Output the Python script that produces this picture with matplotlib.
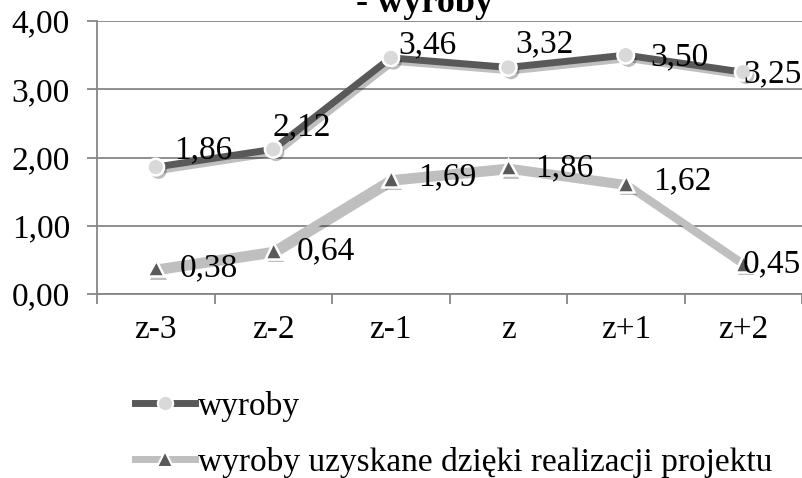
import matplotlib
matplotlib.use("Agg")
import matplotlib.pyplot as plt
import matplotlib.patheffects as pe
from matplotlib.lines import Line2D

plt.rcParams['font.family'] = ['Liberation Serif', 'DejaVu Serif']

categories = ["z-3", "z-2", "z-1", "z", "z+1", "z+2"]
wyroby = [1.86, 2.12, 3.46, 3.32, 3.50, 3.25]
wyroby_projekt = [0.38, 0.64, 1.69, 1.86, 1.62, 0.45]
y_ticks = [0, 1, 2, 3, 4]
y_tick_labels = ["0,00", "1,00", "2,00", "3,00", "4,00"]
series_names = ["wyroby", "wyroby uzyskane dzięki realizacji projektu"]
title_text = "- wyroby"

# label offsets in pixels (dx to left edge, dy to centre; + is down)
off1 = [(18, -17), (-1, -22), (8, -13), (7, -23), (25, 2), (0, 2)]
off2 = [(24, 0), (23, 1), (27, -2), (27, 1), (27, -2), (0, 1)]

W, H = 802, 478
fig = plt.figure(figsize=(W / 100, H / 100), dpi=100)
ax = fig.add_axes([97 / W, 1 - 294 / H, (802 - 97) / W, (294 - 21) / H])

FS = 24
grid_c = "#868686"
dark = "#595959"
light = "#bfbfbf"
markc = "#d9d9d9"

x = list(range(len(categories)))
ax.set_xlim(-0.5, len(categories) - 0.5)
ax.set_ylim(0, 4)

for yv in y_ticks:
    ax.axhline(yv, color=grid_c, lw=1.3, zorder=1)

shadow_line = [pe.SimpleLineShadow(offset=(2, -2.5), shadow_color='black', alpha=0.25), pe.Normal()]
shadow_patch = [pe.SimplePatchShadow(offset=(2, -2.5), shadow_rgbFace='black', alpha=0.25), pe.Normal()]

ax.plot(x, wyroby, color=dark, lw=5, solid_capstyle='round', zorder=3, path_effects=shadow_line)
ax.plot(x, wyroby, ls='none', marker='o', ms=12, mfc=markc, mec='white', mew=1.8, zorder=4,
        path_effects=shadow_patch)
ax.plot(x, wyroby_projekt, color=light, lw=5, solid_capstyle='round', zorder=3, path_effects=shadow_line)
ax.plot(x, wyroby_projekt, ls='none', marker='^', ms=12, mfc=dark, mec='white', mew=1.8, zorder=4,
        path_effects=shadow_patch)

def fmt(v):
    return f"{v:.2f}".replace(".", ",")

for xi, v, (dx, dy) in zip(x, wyroby, off1):
    ax.annotate(fmt(v), (xi, v), xytext=(dx * 0.72, -dy * 0.72), textcoords='offset points',
                ha='left', va='center', fontsize=FS, color='black', zorder=6, annotation_clip=False)
for xi, v, (dx, dy) in zip(x, wyroby_projekt, off2):
    ax.annotate(fmt(v), (xi, v), xytext=(dx * 0.72, -dy * 0.72), textcoords='offset points',
                ha='left', va='center', fontsize=FS, color='black', zorder=6, annotation_clip=False)

# axes styling
for s in ['top', 'right']:
    ax.spines[s].set_visible(False)
for s in ['left', 'bottom']:
    ax.spines[s].set_color(grid_c)
    ax.spines[s].set_linewidth(1.3)
ax.set_yticks(y_ticks)
ax.set_yticklabels(y_tick_labels, fontsize=FS)
ax.tick_params(axis='y', direction='out', length=7.5, width=1.3, color=grid_c, pad=12)
ax.set_xticks(x)
ax.set_xticklabels(categories, fontsize=FS)
ax.tick_params(axis='x', which='major', length=0, pad=15)
ax.set_xticks([i - 0.5 for i in range(len(categories) + 1)], minor=True)
ax.tick_params(axis='x', which='minor', direction='out', length=7, width=1.3, color=grid_c)

fig.text(425 / W, 1 - 12 / H, title_text, ha='center', va='baseline', fontsize=26, fontweight='bold')

h1 = Line2D([], [], color=dark, lw=5, marker='o', ms=11, mfc=markc, mec='white', mew=1.5)
h2 = Line2D([], [], color=light, lw=5, marker='^', ms=11, mfc=dark, mec='white', mew=1.5)
fig.legend([h1, h2], series_names, loc='upper left', bbox_to_anchor=(135 / W, 1 - 391 / H),
           frameon=False, fontsize=FS, handlelength=1.8, handletextpad=0.08, labelspacing=0.75,
           borderpad=0, borderaxespad=0)

fig.savefig("out.png", dpi=100)
